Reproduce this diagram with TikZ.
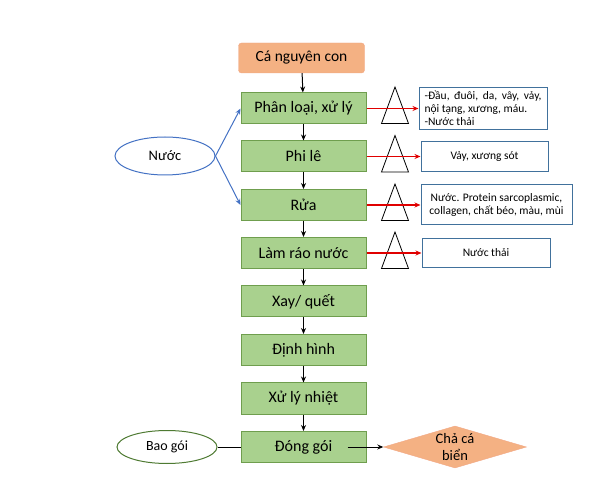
\documentclass[tikz,border=0pt]{standalone}
\usepackage{fontspec}
\setmainfont{Carlito}
\usetikzlibrary{arrows.meta, shapes.geometric}

\definecolor{boxgreen}{HTML}{A9D18E}
\definecolor{edgegreen}{HTML}{6F9E4E}
\definecolor{darkgreen}{HTML}{4E7A32}
\definecolor{salmon}{HTML}{F4B183}
\definecolor{edgesalmon}{HTML}{F2A886}
\definecolor{noteblue}{HTML}{41719C}
\definecolor{linkblue}{HTML}{4472C4}
\definecolor{lossred}{HTML}{E00000}

\tikzset{
  procbox/.style={draw=edgegreen, fill=boxgreen, line width=1pt, minimum width=125pt,
    minimum height=31pt, inner sep=0pt, font=\fontsize{16}{18}\selectfont},
  notebox/.style={draw=noteblue, fill=white, line width=1pt, inner sep=3pt,
    font=\fontsize{11.5}{13}\selectfont},
  srcbox/.style={ellipse, line width=1pt, fill=white, minimum width=100pt,
    inner sep=0pt, font=\fontsize{14.5}{16}\selectfont},
  flowarrow/.style={-{Stealth[length=6pt,width=5pt]}, line width=1pt},
  lossarrow/.style={-{Stealth[length=6pt,width=5pt]}, draw=lossred, line width=1.2pt},
}

\begin{document}
\begin{tikzpicture}[x=1pt, y=-1pt]
  \useasboundingbox (0,0) rectangle (600,486);

  % raw material
  \node[draw=edgesalmon, fill=salmon, rounded corners=3pt, minimum width=126pt,
    minimum height=30pt, font=\fontsize{15.5}{17}\selectfont] (ca) at (301.5,58) {Cá nguyên con};

  % processing steps
  \node[procbox] (phanloai) at (303.5,108.5) {Phân loại, xử lý};
  \node[procbox] (phile)    at (303.5,156.5) {Phi lê};
  \node[procbox] (rua)      at (303.5,205)   {Rửa};
  \node[procbox] (lamrao)   at (303.5,253)   {Làm ráo nước};
  \node[procbox] (xay)      at (303.5,301.5) {Xay/ quết};
  \node[procbox] (dinhhinh) at (303.5,350)   {Định hình};
  \node[procbox] (nhiet)    at (303.5,398.5) {Xử lý nhiệt};
  \node[procbox] (donggoi)  at (303.5,447)   {Đóng gói};

  \foreach \a/\b in {ca/phanloai, phanloai/phile, phile/rua, rua/lamrao,
      lamrao/xay, xay/dinhhinh, dinhhinh/nhiet, nhiet/donggoi}
    \draw[flowarrow] (\a) -- (\b);

  % waste boxes
  \node[notebox, minimum width=128pt, minimum height=42pt, align=left]
    (boa) at (483,108.5) {\makebox[117pt][s]{-Đầu, đuôi, da, vây, vảy,}\\nội tạng, xương, máu.\\-Nước thải};
  \node[notebox, minimum width=127pt, minimum height=30pt] (bob) at (484.5,156.5) {Vảy, xương sót};
  \node[notebox, minimum width=151pt, minimum height=40pt, align=center]
    (boc) at (496.5,205) {Nước. Protein sarcoplasmic,\\collagen, chất béo, màu, mùi};
  \node[notebox, minimum width=128pt, minimum height=29pt] (bod) at (486,253) {Nước thải};

  % triangles
  \foreach \y in {108,156.5,205,253}
    \draw[line width=0.8pt] (395,\y-21) -- (381.5,\y+15.5) -- (408.5,\y+15.5) -- cycle;

  \draw[lossarrow] (phile.east) -- (bob.west);
  \draw[lossarrow] (rua.east) -- (boc.west);
  \draw[lossarrow] (lamrao.east) -- (bod.west);

  % water input
  \node[srcbox, draw=linkblue, minimum height=38pt] (nuoc) at (165,156) {Nước};
  \draw[-{Stealth[length=6pt,width=5pt]}, linkblue, line width=1pt] (nuoc.east) -- (phanloai.west);
  \draw[-{Stealth[length=6pt,width=5pt]}, linkblue, line width=1pt] (nuoc.east) -- (rua.west);

  % packaging
  \node[srcbox, draw=darkgreen, minimum height=33pt, font=\fontsize{14}{16}\selectfont]
    (baogoi) at (167,447) {Bao gói};
  \draw[line width=1pt] (baogoi.east) -- (donggoi.west);

  \node[diamond, aspect=3.5, draw=edgesalmon, fill=salmon, inner sep=0pt,
    minimum width=143pt, minimum height=42pt, align=center,
    font=\fontsize{14.5}{17}\selectfont] (chaca) at (455,447) {Chả cá\\biển};
  \draw[flowarrow] ([xshift=-19pt]donggoi.east) -- (chaca.west);

  \draw[lossarrow] (phanloai.east) -- (boa.west);
\end{tikzpicture}
\end{document}
